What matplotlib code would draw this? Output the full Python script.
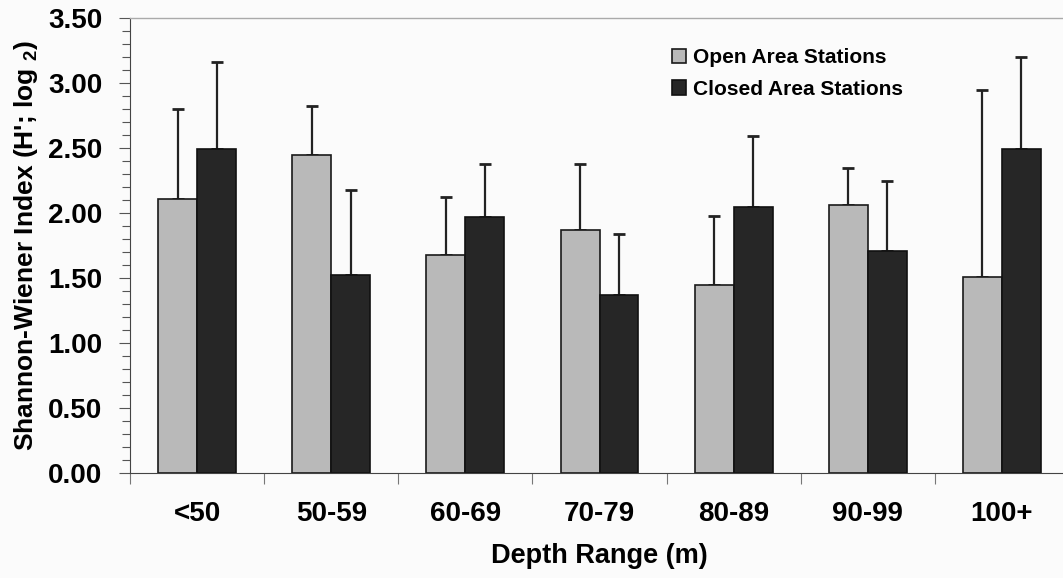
import numpy as np
import matplotlib.pyplot as plt
from matplotlib.ticker import MultipleLocator

# Shannon-Wiener diversity by depth range, mean with upper SD bar
depth_ranges = ['<50', '50-59', '60-69', '70-79', '80-89', '90-99', '100+']
open_mean = [2.11, 2.45, 1.68, 1.87, 1.45, 2.06, 1.51]
open_sd = [0.69, 0.37, 0.44, 0.51, 0.53, 0.29, 1.44]
closed_mean = [2.49, 1.52, 1.97, 1.37, 2.05, 1.71, 2.49]
closed_sd = [0.67, 0.66, 0.41, 0.47, 0.54, 0.54, 0.71]

plt.rcParams['font.family'] = ['Liberation Sans', 'DejaVu Sans']
plt.rcParams['font.weight'] = 'bold'
plt.rcParams['mathtext.fontset'] = 'custom'
plt.rcParams['mathtext.rm'] = 'Liberation Sans:bold'
plt.rcParams['mathtext.bf'] = 'Liberation Sans:bold'

fig = plt.figure(figsize=(10.63, 5.78), dpi=100)
fig.patch.set_facecolor('#fbfbfb')
ax = fig.add_axes([130 / 1063, 1 - 473 / 578, 939 / 1063, 455 / 578])
ax.set_facecolor('#fbfbfb')

x = np.arange(len(depth_ranges))
width = 0.29
n = len(x)

ax.bar(x - width / 2, open_mean, width, color='#b9b9b9', edgecolor='#1a1a1a',
       linewidth=1.2, label='Open Area Stations', zorder=2)
ax.bar(x + width / 2, closed_mean, width, color='#262626', edgecolor='#111111',
       linewidth=1.2, label='Closed Area Stations', zorder=2)
ax.errorbar(x - width / 2, open_mean, yerr=[np.zeros(n), open_sd], fmt='none',
            ecolor='#222222', elinewidth=1.6, capsize=4, capthick=2, zorder=1)
ax.errorbar(x + width / 2, closed_mean, yerr=[np.zeros(n), closed_sd], fmt='none',
            ecolor='#222222', elinewidth=1.6, capsize=4, capthick=2, zorder=1)

ax.set_xlim(-0.5, 6.5)
ax.set_ylim(0, 3.5)

# category ticks sit between the groups, labels at the group centres
ax.set_xticks(np.arange(-0.5, 6.5, 1.0))
ax.set_xticklabels([])
ax.set_xticks(x, minor=True)
ax.set_xticklabels(depth_ranges, minor=True, fontsize=20, fontweight='bold')
ax.tick_params(axis='x', which='major', direction='out', length=8, width=0.8, color='#777777')
ax.tick_params(axis='x', which='minor', length=0, pad=20)

ax.yaxis.set_major_locator(MultipleLocator(0.5))
ax.yaxis.set_minor_locator(MultipleLocator(0.1))
ax.set_yticks(np.arange(0, 3.51, 0.5))
ax.set_yticklabels([f'{v:.2f}' for v in np.arange(0, 3.51, 0.5)], fontsize=20, fontweight='bold')
ax.tick_params(axis='y', which='major', direction='out', length=8, width=0.8, color='#555555', pad=12)
ax.tick_params(axis='y', which='minor', direction='out', length=6, width=0.8, color='#555555')

for side in ['top', 'right']:
    ax.spines[side].set_color('#aaaaaa')
    ax.spines[side].set_linewidth(1.0)
ax.spines['left'].set_color('#444444')
ax.spines['bottom'].set_color('#444444')

ax.set_xlabel('Depth Range (m)', fontsize=19.5, fontweight='bold', labelpad=12)
ax.set_ylabel("Shannon-Wiener Index (H'; log $_{2}$)", fontsize=19, fontweight='bold', labelpad=6)

ax.legend(loc='upper left', bbox_to_anchor=(0.557, 0.975), frameon=False,
          handlelength=0.7, handleheight=0.7, handletextpad=0.3, labelspacing=0.62,
          prop={'weight': 'bold', 'size': 15})

fig.savefig('out.png', dpi=100, facecolor=fig.get_facecolor())
